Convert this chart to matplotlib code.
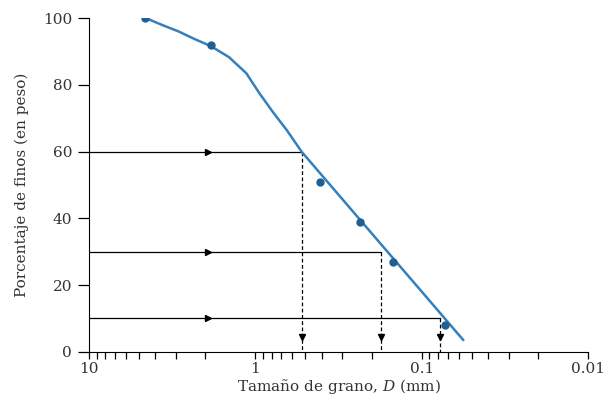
import matplotlib
matplotlib.use("Agg")
import matplotlib.pyplot as plt
from matplotlib.ticker import FixedLocator, LogLocator, NullFormatter

# grain size data
sieve_d = [4.6, 1.85, 0.41, 0.234, 0.148, 0.0724]
pct_finer = [100, 92, 51, 39, 27, 8]

# hand drawn smooth curve through the data
curve_d = [4.55, 3.61, 2.89, 2.31, 1.85, 1.44, 1.134, 0.946, 0.778, 0.649, 0.526, 0.0565]
curve_pct = [100, 97.9, 96.0, 93.7, 91.6, 88.3, 83.5, 77.5, 71.6, 66.5, 59.9, 3.6]

# D60, D30, D10
levels = [60, 30, 10]
d_levels = [0.526, 0.175, 0.078]

x_ticks = [10, 1, 0.1, 0.01]
x_ticklabels = ["10", "1", "0.1", "0.01"]
y_ticks = [0, 20, 40, 60, 80, 100]

plt.rcParams['font.family'] = ['DejaVu Serif']
plt.rcParams['mathtext.fontset'] = 'dejavuserif'

fig = plt.figure(figsize=(6.09, 4.12), dpi=100)
ax = fig.add_axes([0.146, 0.146, 0.82, 0.81])

ax.plot(curve_d, curve_pct, color="#3480bd", lw=1.8, zorder=3,
        solid_joinstyle="round")
ax.plot(sieve_d, pct_finer, "o", color="#1f5f94", ms=5, zorder=4)

for y, d in zip(levels, d_levels):
    ax.plot([10, d], [y, y], color="black", lw=0.9, zorder=2)
    ax.plot([1.93], [y], ">", color="black", ms=5, zorder=2)
    ax.plot([d, d], [y, 0], color="black", lw=0.9, ls=(0, (3, 2)), zorder=2)
    ax.plot([d], [4.5], "v", color="black", ms=5, zorder=2)

ax.set_xscale("log")
ax.set_xlim(10, 0.01)
ax.set_ylim(0, 100)

ax.xaxis.set_major_locator(FixedLocator(x_ticks))
ax.set_xticklabels(x_ticklabels)
ax.xaxis.set_minor_locator(LogLocator(base=10, subs=range(2, 10)))
ax.xaxis.set_minor_formatter(NullFormatter())
ax.set_yticks(y_ticks)

ax.tick_params(axis="x", which="both", length=5, width=0.9, direction="out", labelsize=11, labelcolor="#333333", pad=2)
ax.tick_params(axis="y", length=8, width=0.9, direction="out", labelsize=11, labelcolor="#333333", pad=4)

ax.spines["top"].set_visible(False)
ax.spines["right"].set_visible(False)

ax.set_xlabel("Tamaño de grano, $D$ (mm)", fontsize=11, color="#333333", labelpad=1)
ax.set_ylabel("Porcentaje de finos (en peso)", fontsize=11, color="#333333", labelpad=10)

fig.savefig("out.png", dpi=100)
